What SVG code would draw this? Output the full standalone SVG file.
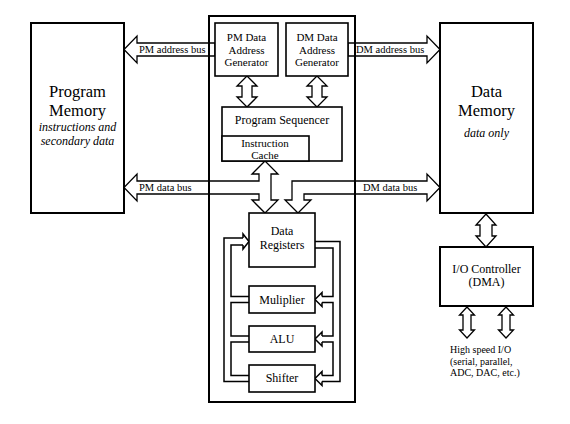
<svg xmlns="http://www.w3.org/2000/svg" width="570" height="424" viewBox="0 0 570 424" font-family="'Liberation Serif', 'DejaVu Serif', 'Times New Roman', serif">
<style>
  .box { fill: none; stroke: #000; stroke-width: 2; }
  .ibox { fill: #fff; stroke: #000; stroke-width: 1.6; }
  .arr { fill: #fff; stroke: #000; stroke-width: 1.3; stroke-linejoin: miter; }
  .ch { fill: none; stroke: #000; stroke-width: 1.5; }
  text { fill: #000; text-anchor: middle; }
  .big { font-size: 16.5px; }
  .it { font-size: 12px; font-style: italic; }
  .lbl { font-size: 11px; }
  .mid { font-size: 12px; }
  .bus { font-size: 10.5px; text-anchor: start; }
  .sm { font-size: 10px; text-anchor: start; }
</style>
<rect width="570" height="424" fill="#fff"/>

<g id="connectors">
  <polygon class="arr" points="124,49.5 137,36 137,43 215,43 215,56 137,56 137,63"/>
  <polygon class="arr" points="440,49.5 427,36 427,43 348,43 348,56 427,56 427,63"/>
  <polygon class="arr" points="265,161 278,174 271,174 271,200 278,200 265,213 252,200 259,200 259,194 137,194 137,201 124,187.5 137,174 137,181 259,181 259,174 252,174"/>
  <polygon class="arr" points="440,187.5 427,174 427,181 292,181 292,200 285,200 298,213 311,200 304,200 304,194 427,194 427,201"/>
  <polygon class="arr" points="247,76 257,86 252,86 252,97 257,97 247,107 237,97 242,97 242,86 237,86"/>
  <polygon class="arr" points="317,76 327,86 322,86 322,97 327,97 317,107 307,97 312,97 312,86 307,86"/>
  <polygon class="arr" points="486,214 496,225 492,225 492,236 496,236 486,247 476,236 480,236 480,225 476,225"/>
  <polygon class="arr" points="467,307 474.5,315 471,315 471,330 474.5,330 467,338 459.5,330 463,330 463,315 459.5,315"/>
  <polygon class="arr" points="506,307 513.5,315 510,315 510,330 513.5,330 506,338 498.5,330 502,330 502,315 498.5,315"/>

  <path class="ch" d="M243,238 H224 V381.5 H249"/>
  <path class="ch" d="M243,245 H231 V296.5 H249"/>
  <path class="ch" d="M249,302.5 H231 V336 H249"/>
  <path class="ch" d="M249,342 H231 V375.5 H249"/>
  <polyline class="ch" points="243,238 243,234 249,241.5 243,249 243,245"/>

  <path class="ch" d="M315,241.5 H340 V381.5 H322"/>
  <path class="ch" d="M315,248 H333 V296.5 H322"/>
  <path class="ch" d="M322,302.5 H333 V336 H322"/>
  <path class="ch" d="M322,342 H333 V375.5 H322"/>
  <polyline class="ch" points="322,296.5 322,292.5 315,299.5 322,306.5 322,302.5"/>
  <polyline class="ch" points="322,336 322,332 315,339 322,346 322,342"/>
  <polyline class="ch" points="322,375.5 322,371.5 315,378.5 322,385.5 322,381.5"/>
</g>

<g id="dsp-core">
  <rect class="box" x="209" y="16" width="146" height="386"/>
</g>

<g id="program-memory">
  <rect class="box" x="31" y="23" width="93" height="190" fill="#fff"/>
  <text class="big" x="77.5" y="97">Program</text>
  <text class="big" x="77.5" y="115.5">Memory</text>
  <text class="it" x="77.5" y="131">instructions and</text>
  <text class="it" x="77.5" y="144.5">secondary data</text>
</g>

<g id="data-memory">
  <rect class="box" x="440" y="23" width="93" height="190"/>
  <text class="big" x="486.5" y="97">Data</text>
  <text class="big" x="486.5" y="115.5">Memory</text>
  <text class="it" x="486.5" y="137">data only</text>
</g>

<g id="pm-dag">
  <rect class="ibox" x="215" y="23" width="63" height="53"/>
  <text class="lbl" x="246.5" y="41">PM Data</text>
  <text class="lbl" x="246.5" y="53.5">Address</text>
  <text class="lbl" x="246.5" y="66">Generator</text>
</g>

<g id="dm-dag">
  <rect class="ibox" x="286" y="23" width="62" height="53"/>
  <text class="lbl" x="317" y="41">DM Data</text>
  <text class="lbl" x="317" y="53.5">Address</text>
  <text class="lbl" x="317" y="66">Generator</text>
</g>

<g id="program-sequencer">
  <rect class="ibox" x="222" y="107" width="120" height="54"/>
  <text class="mid" x="282" y="124">Program Sequencer</text>
</g>

<g id="instruction-cache">
  <rect class="ibox" x="222" y="136" width="87" height="25"/>
  <text class="lbl" x="265" y="146.5">Instruction</text>
  <text class="lbl" x="265" y="159">Cache</text>
</g>

<g id="data-registers">
  <rect class="ibox" x="249" y="213" width="66" height="54"/>
  <text class="mid" x="282" y="235">Data</text>
  <text class="mid" x="282" y="248.5">Registers</text>
</g>

<g id="multiplier">
  <rect class="ibox" x="249" y="286" width="66" height="27"/>
  <text class="mid" x="282" y="304">Muliplier</text>
</g>

<g id="alu">
  <rect class="ibox" x="249" y="326" width="66" height="26"/>
  <text class="mid" x="282" y="343">ALU</text>
</g>

<g id="shifter">
  <rect class="ibox" x="249" y="365" width="66" height="27"/>
  <text class="mid" x="282" y="382">Shifter</text>
</g>

<g id="io-controller">
  <rect class="box" x="440" y="247" width="93" height="59"/>
  <text class="mid" x="486.5" y="272.5">I/O Controller</text>
  <text class="mid" x="486.5" y="286">(DMA)</text>
</g>

<g id="labels">
  <text class="bus" x="139" y="53">PM address bus</text>
  <text class="bus" x="356" y="53">DM address bus</text>
  <text class="bus" x="139" y="191">PM data bus</text>
  <text class="bus" x="363" y="191">DM data bus</text>
  <text class="sm" x="450" y="353">High speed I/O</text>
  <text class="sm" x="450" y="364.5">(serial, parallel,</text>
  <text class="sm" x="450" y="376">ADC, DAC, etc.)</text>
</g>
</svg>
